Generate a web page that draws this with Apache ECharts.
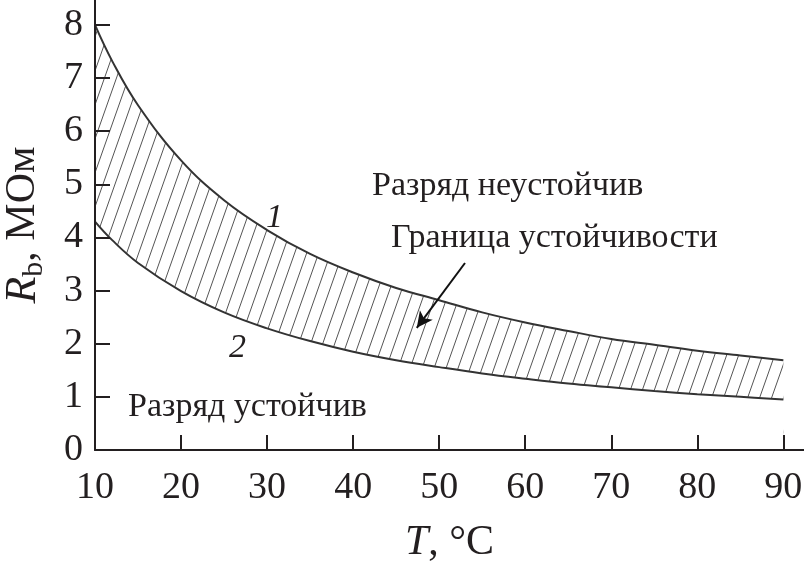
<!DOCTYPE html>
<html><head><meta charset="utf-8">
<script src="https://cdn.jsdelivr.net/npm/echarts@6/dist/echarts.min.js"></script>
<style>html,body{margin:0;padding:0;background:#fff}#c{width:804px;height:565px}</style>
</head><body><div id="c"></div>
<script>
// Data
const temps  = [10, 12, 15, 20, 25, 30, 35, 40, 45, 50, 55, 60, 65, 70, 75, 80, 85, 90];
const curve1 = [8.00, 7.32, 6.49, 5.45, 4.70, 4.14, 3.69, 3.34, 3.05, 2.82, 2.59, 2.40, 2.24, 2.09, 1.98, 1.87, 1.78, 1.69];
const curve2 = [4.30, 3.95, 3.52, 2.99, 2.59, 2.29, 2.05, 1.85, 1.69, 1.56, 1.44, 1.34, 1.25, 1.18, 1.11, 1.05, 1.00, 0.95];
const xTicks = [10, 20, 30, 40, 50, 60, 70, 80, 90];
const yTicks = [0, 1, 2, 3, 4, 5, 6, 7, 8];
const arrowFrom = [53.0, 3.52];
const arrowTo = [47.4, 2.30];

const SERIF = "'Liberation Serif', 'DejaVu Serif', serif";
const INK = '#231f20';

// hatch pattern
const pc = document.createElement('canvas');
const pw = 12, ph = 34;
pc.width = pw; pc.height = ph;
const g = pc.getContext('2d');
g.fillStyle = '#fff';
g.fillRect(0, 0, pw, ph);
g.strokeStyle = '#555';
g.lineWidth = 1;
for (let k = -1; k <= 1; k++) {
  g.beginPath();
  g.moveTo(k * pw, ph);
  g.lineTo(k * pw + pw, 0);
  g.stroke();
}

const upperData = temps.map((t, i) => [t, curve1[i]]);
const lowerData = temps.map((t, i) => [t, curve2[i]]);

const chart = echarts.init(document.getElementById('c'), null, {renderer: 'canvas'});
chart.setOption({
  animation: false,
  backgroundColor: '#fff',
  grid: {left: 95, right: 0, top: 0, bottom: 115, containLabel: false, outerBoundsMode: 'none'},
  xAxis: {
    type: 'value', min: 10, max: 92.4, interval: 10, z: 10,
    axisLine: {show: true, lineStyle: {color: INK, width: 2}},
    axisTick: {show: true, inside: true, length: 15, customValues: xTicks, lineStyle: {color: INK, width: 2}},
    axisLabel: {customValues: xTicks, color: INK, fontFamily: SERIF, fontSize: 38, margin: 19},
    splitLine: {show: false},
    name: '{i|T}{n|, °C}', nameLocation: 'middle', nameGap: 72,
    nameTextStyle: {rich: {
      i: {fontFamily: SERIF, fontSize: 42, fontStyle: 'italic', color: INK},
      n: {fontFamily: SERIF, fontSize: 42, color: INK}
    }}
  },
  yAxis: {
    type: 'value', min: 0, max: 8.47, interval: 1, z: 10,
    axisLine: {show: true, lineStyle: {color: INK, width: 2}},
    axisTick: {show: true, inside: true, length: 15, customValues: yTicks, lineStyle: {color: INK, width: 2}},
    axisLabel: {customValues: yTicks, color: INK, fontFamily: SERIF, fontSize: 38, margin: 12},
    splitLine: {show: false},
    name: '{i|R}{s|b}{n|, МОм}', nameLocation: 'middle', nameGap: 46, nameRotate: 90,
    nameTextStyle: {rich: {
      i: {fontFamily: SERIF, fontSize: 44, fontStyle: 'italic', color: INK, lineHeight: 52, verticalAlign: 'middle'},
      s: {fontFamily: SERIF, fontSize: 30, color: INK, lineHeight: 30, verticalAlign: 'bottom'},
      n: {fontFamily: SERIF, fontSize: 42, color: INK, lineHeight: 52, verticalAlign: 'middle'}
    }}
  },
  series: [
    {
      type: 'line', name: '1', data: upperData, smooth: 0.4,
      symbol: 'none', lineStyle: {color: '#333', width: 2},
      areaStyle: {color: {image: pc, repeat: 'repeat'}, opacity: 1, origin: 'start'}, z: 2,
      markLine: {
        silent: true, symbol: ['none', 'arrow'], symbolSize: [12, 16],
        lineStyle: {color: '#111', width: 2, type: 'solid'},
        label: {show: false},
        data: [[{coord: arrowFrom}, {coord: arrowTo}]]
      }
    },
    {
      type: 'line', name: '2', data: lowerData, smooth: 0.4,
      symbol: 'none', lineStyle: {color: '#333', width: 2},
      areaStyle: {color: '#fff', opacity: 1, origin: 'start'}, z: 3
    }
  ],
  graphic: [
    {type: 'text', left: 372, top: 169, z: 20, style: {text: 'Разряд неустойчив', font: '34px ' + SERIF, fill: INK}},
    {type: 'text', left: 391, top: 221, z: 20, style: {text: 'Граница устойчивости', font: '34px ' + SERIF, fill: INK}},
    {type: 'text', left: 128, top: 390, z: 20, style: {text: 'Разряд устойчив', font: '34px ' + SERIF, fill: INK}},
    {type: 'text', left: 266, top: 201, z: 20, style: {text: '1', font: 'italic 34px ' + SERIF, fill: INK}},
    {type: 'text', left: 229, top: 331, z: 20, style: {text: '2', font: 'italic 34px ' + SERIF, fill: INK}}
  ]
});
</script></body></html>
